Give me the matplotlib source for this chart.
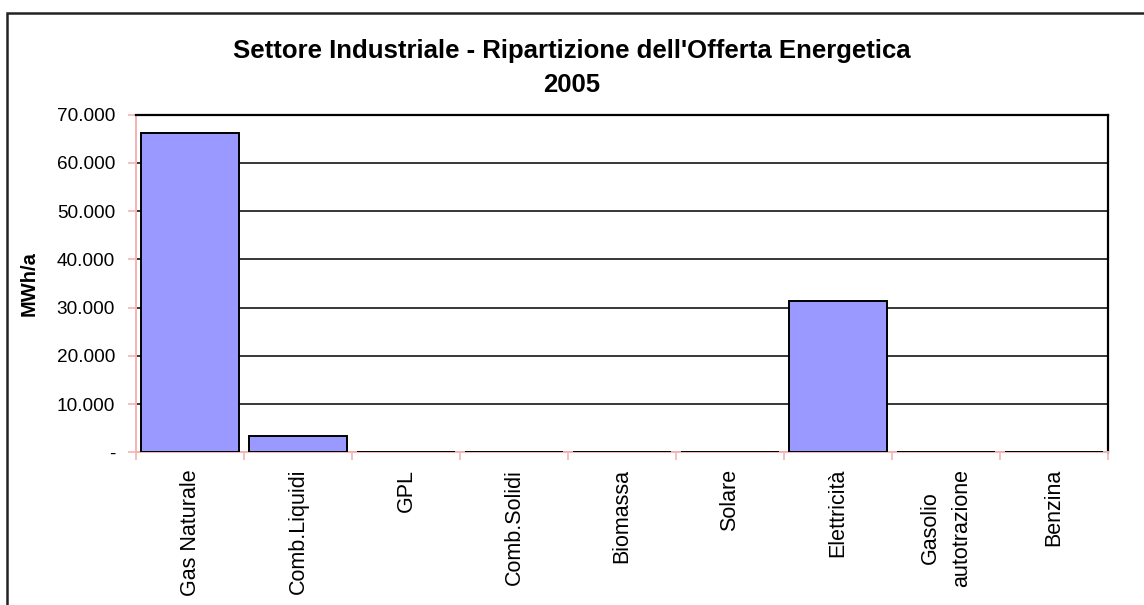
import numpy as np
import matplotlib
matplotlib.use('Agg')
import matplotlib.pyplot as plt
from matplotlib.patches import Rectangle
from matplotlib.ticker import FixedLocator, FuncFormatter

plt.rcParams['font.family'] = ['Liberation Sans', 'DejaVu Sans']

# data
categories = ['Gas Naturale', 'Comb.Liquidi', 'GPL', 'Comb.Solidi', 'Biomassa',
              'Solare', 'Elettricità', 'Gasolio\nautotrazione', 'Benzina']
values = [66300, 3450, 0, 0, 0, 0, 31350, 0, 0]
yticks = [0, 10000, 20000, 30000, 40000, 50000, 60000, 70000]

pink = '#f2b4b4'

fig = plt.figure(figsize=(11.44, 6.05), dpi=100)
ax = fig.add_axes([136/1144, 1-452.3/605, (1108-136)/1144, (452.3-114.7)/605])

x = np.arange(len(categories))
ax.bar(x, values, width=0.9, color='#9999ff', edgecolor='black', linewidth=1.4, zorder=3)

ax.set_xlim(-0.5, len(categories) - 0.5)
ax.set_ylim(0, 70000)

# gridlines
ax.set_yticks(yticks)
ax.yaxis.grid(True, color='black', linewidth=1.1)
ax.set_axisbelow(True)

def fmt(v, pos):
    if v == 0:
        return '-'
    return f'{int(v):,}'.replace(',', '.')
ax.yaxis.set_major_formatter(FuncFormatter(fmt))

ax.set_xticks(x)
ax.set_xticklabels(categories, rotation=90, va='top', ha='center',
                   multialignment='center', fontsize=15.5, linespacing=1.7)
ax.xaxis.set_minor_locator(FixedLocator(np.arange(-0.5, len(categories), 1.0)))
ax.tick_params(axis='x', which='major', length=0, pad=12)
ax.tick_params(axis='x', which='minor', length=6, color=pink, width=1.2)
ax.tick_params(axis='y', length=6, color=pink, width=1.2, pad=9, labelsize=13.7)

for side in ('left', 'bottom'):
    ax.spines[side].set_color(pink)
    ax.spines[side].set_linewidth(1.4)
for side in ('top', 'right'):
    ax.spines[side].set_color('black')
    ax.spines[side].set_linewidth(1.6)

ax.set_ylabel('MWh/a', fontsize=14.5, fontweight='bold')
ax.yaxis.set_label_coords((39-136)/972, 0.5)

fig.text(0.5, 1-68/605, "Settore Industriale - Ripartizione dell'Offerta Energetica\n2005",
         ha='center', va='center', fontsize=18.5, fontweight='bold', linespacing=1.55)

# outer chart border
fig.patches.append(Rectangle((7/1144, -0.1), 1.2, 1-13/605+0.1, transform=fig.transFigure,
                             fill=False, edgecolor='#222222', linewidth=1.8, clip_on=False))

fig.savefig('out.png', dpi=100)
